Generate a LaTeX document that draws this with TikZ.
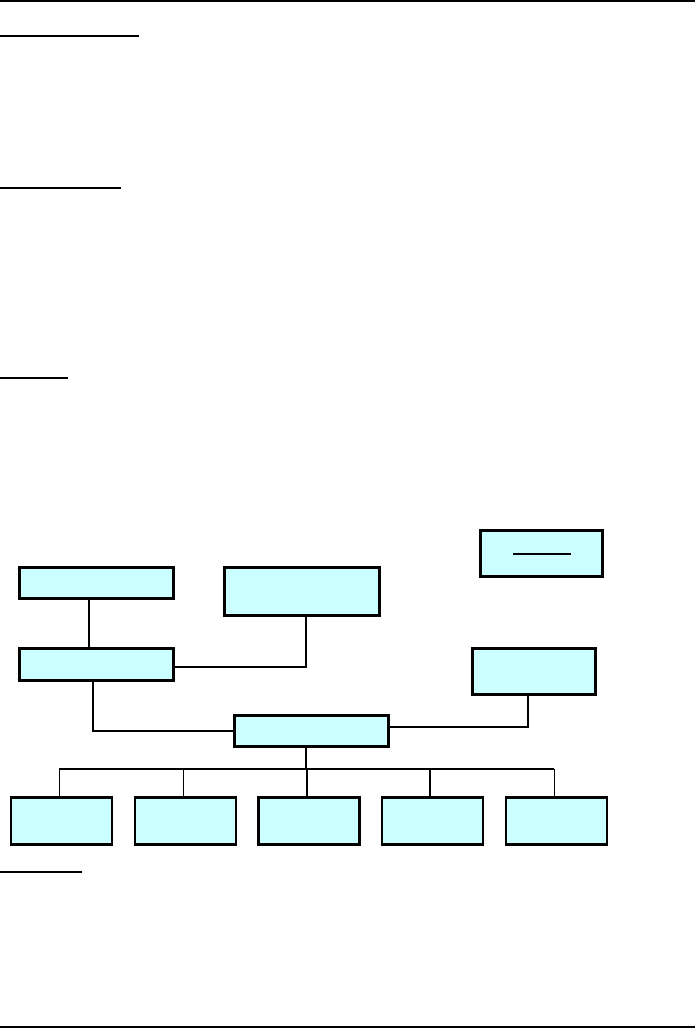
\documentclass[tikz,border=0pt]{standalone}
\definecolor{organigramaCian}{HTML}{CCFFFF}
\usetikzlibrary{
	calc,
	positioning
}
\tikzset{
	caja/.style={
		draw=black,
		fill=organigramaCian,
		line width=2.5pt,
		inner sep=0pt,
		outer sep=0pt,
		minimum width=154pt,
		minimum height=31pt
	},
	cajaArea/.style={
		caja,
		minimum width=101pt,
		minimum height=47pt
	},
	conector/.style={
		line width=2pt,
		black
	},
	conectorBus/.style={
		line width=1.5pt,
		black
	},
	conectorFino/.style={
		line width=1pt,
		black
	},
	subrayado/.style={
		line width=2.5pt,
		black
	},
	regla/.style={
		line width=2pt,
		black
	}
}
\begin{document}
\begin{tikzpicture}[x=1pt, y=-1pt]
		\useasboundingbox (0,0) rectangle (695,1028);
		\draw[regla] (0,1) -- (695,1);
		\draw[regla] (0,1027) -- (695,1027);
		\foreach \y/\largo in {36/139, 188/121, 378/68, 872/82}{
			\draw[subrayado] (0,\y) -- (\largo,\y);
		}
		\node[caja] (jefatura) at (96.5,583) {};
		\node[caja, minimum width=155pt, minimum height=48pt] (asesoria) at (302,591.5) {};
		\node[caja, minimum width=122pt, minimum height=46pt] (leyenda) at (541.5,553.5) {};
		\node[caja, minimum height=32pt] (secretaria) at (96.5,664.5) {};
		\node[caja, minimum width=123pt, minimum height=46pt] (apoyo) at (534,671.5) {};
		\node[caja] (direccion) at (311.5,731) {};
		\foreach \i/\x in {1/61.5, 2/185.5, 3/309, 4/432.5, 5/556.5}{
			\node[cajaArea] (area\i) at (\x,821) {};
			\coordinate (toma\i) at ($(area\i.north)+(-2.5,0)$);
		}
		\draw[conector] ($(leyenda.center)+(-29,0)$) -- ($(leyenda.center)+(29,0)$);
		\draw[conector] ($(jefatura.south)+(-7.5,0)$) -- ($(secretaria.north)+(-7.5,0)$);
		\draw[conector] ($(secretaria.east)+(0,2)$) -| ($(asesoria.south)+(4,0)$);
		\draw[conector] ($(secretaria.south)+(-3.5,0)$) |- (direccion.west);
		\draw[conector] ($(direccion.east)+(0,-4)$) -| ($(apoyo.south)+(-6,0)$);
		\coordinate (bus) at ($(direccion.south)+(-5.5,22.5)$);
		\draw[conector] ($(direccion.south)+(-5.5,0)$) -- (bus);
		\draw[conectorBus] (toma1 |- bus) -- (toma5 |- bus);
		\foreach \i/\grosor in {1/conectorFino, 2/conectorFino, 3/conector, 4/conector, 5/conectorFino}{
			\draw[\grosor] (toma\i |- bus) -- (toma\i);
		}
	\end{tikzpicture}
\end{document}
